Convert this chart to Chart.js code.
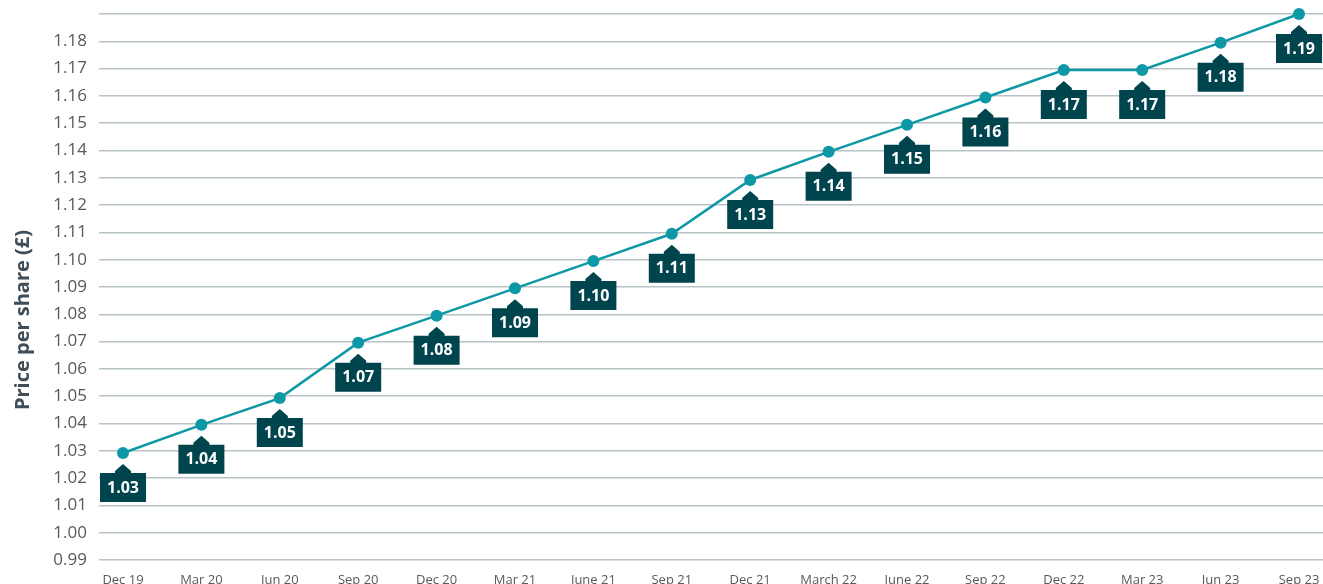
<!DOCTYPE html>
<html>
<head>
<meta charset="utf-8">
<script src="https://cdn.jsdelivr.net/npm/chart.js@4/dist/chart.umd.min.js"></script>
<style>
  html, body { margin: 0; padding: 0; background: #ffffff; overflow: hidden; }
  #wrap { position: relative; width: 1323px; height: 584px; }
</style>
</head>
<body>
<div id="wrap"><canvas id="c"></canvas></div>
<script>
const categories = ["Dec 19","Mar 20","Jun 20","Sep 20","Dec 20","Mar 21","June 21","Sep 21","Dec 21","March 22","June 22","Sep 22","Dec 22","Mar 23","Jun 23","Sep 23"];
const pricePerShare = [1.0292,1.0395,1.0493,1.0696,1.0795,1.0895,1.0995,1.1095,1.1292,1.1395,1.1494,1.1594,1.1695,1.1695,1.1795,1.19];
const priceLabels = ["1.03","1.04","1.05","1.07","1.08","1.09","1.10","1.11","1.13","1.14","1.15","1.16","1.17","1.17","1.18","1.19"];
const yTicks = [0.99,1.00,1.01,1.02,1.03,1.04,1.05,1.06,1.07,1.08,1.09,1.10,1.11,1.12,1.13,1.14,1.15,1.16,1.17,1.18,1.19];
const yTitle = "Price per share (£)";

const FONT = "'Open Sans', 'Noto Sans', sans-serif";

const labelBoxes = {
  id: 'labelBoxes',
  afterDatasetsDraw(chart) {
    const ctx = chart.ctx;
    const meta = chart.getDatasetMeta(0);
    ctx.save();
    meta.data.forEach((pt, i) => {
      const x = pt.x, y = pt.y;
      ctx.fillStyle = '#00454e';
      ctx.beginPath();
      ctx.moveTo(x, y + 11);
      ctx.lineTo(x + 8, y + 18);
      ctx.lineTo(x + 8, y + 20);
      ctx.lineTo(x + 23, y + 20);
      ctx.lineTo(x + 23, y + 49);
      ctx.lineTo(x - 23, y + 49);
      ctx.lineTo(x - 23, y + 20);
      ctx.lineTo(x - 8, y + 20);
      ctx.lineTo(x - 8, y + 18);
      ctx.closePath();
      ctx.fill();
      ctx.fillStyle = '#ffffff';
      ctx.font = "bold 16px " + FONT;
      ctx.textAlign = 'center';
      ctx.textBaseline = 'middle';
      ctx.fillText(priceLabels[i], x, y + 35);
    });
    ctx.restore();
  }
};

const yTitlePlugin = {
  id: 'yTitlePlugin',
  afterDraw(chart) {
    const ctx = chart.ctx;
    ctx.save();
    ctx.translate(23, 320);
    ctx.rotate(-Math.PI / 2);
    ctx.fillStyle = '#3f4d59';
    ctx.font = "bold 20px " + FONT;
    ctx.textAlign = 'center';
    ctx.textBaseline = 'middle';
    ctx.fillText(yTitle, 0, 0);
    ctx.restore();
  }
};

new Chart(document.getElementById('c'), {
  type: 'line',
  data: {
    datasets: [{
      data: pricePerShare.map((v, i) => ({ x: i, y: v })),
      borderColor: '#0d98a6',
      backgroundColor: '#0d98a6',
      borderWidth: 2.5,
      pointRadius: 6,
      pointHoverRadius: 6,
      pointBackgroundColor: '#0d98a6',
      pointBorderWidth: 0,
      tension: 0,
      clip: false
    }]
  },
  options: {
    responsive: true,
    maintainAspectRatio: false,
    animation: false,
    layout: { autoPadding: false, padding: { top: 14, right: 0, left: 0, bottom: 0 } },
    plugins: { legend: { display: false }, tooltip: { enabled: false } },
    scales: {
      x: {
        type: 'linear',
        min: -0.306,
        max: 15.306,
        afterBuildTicks(scale) {
          scale.ticks = categories.map((c, i) => ({ value: i }));
        },
        afterFit(scale) {
          scale.height = 24;
          scale.paddingLeft = 0; scale.paddingRight = 0;
          scale.paddingTop = 0; scale.paddingBottom = 0;
        },
        grid: { display: false, drawTicks: false },
        border: { display: false },
        ticks: {
          autoSkip: false,
          maxRotation: 0,
          padding: 12,
          color: '#595959',
          font: { family: FONT, size: 13 },
          callback: (v) => categories[v] ?? ''
        }
      },
      y: {
        min: 0.99,
        max: 1.19,
        afterBuildTicks(scale) {
          scale.ticks = yTicks.map(v => ({ value: v }));
        },
        afterFit(scale) {
          scale.width = 99;
          scale.paddingTop = 0; scale.paddingBottom = 0;
          scale.paddingLeft = 0; scale.paddingRight = 0;
        },
        grid: { color: '#b7c3c7', lineWidth: 1.5, drawTicks: false },
        border: { display: false },
        ticks: {
          padding: 12,
          color: '#595959',
          font: { family: FONT, size: 17 },
          callback: (v) => (Math.abs(v - 1.19) < 1e-6 ? '' : v.toFixed(2))
        }
      }
    }
  },
  plugins: [labelBoxes, yTitlePlugin]
});
</script>
</body>
</html>
